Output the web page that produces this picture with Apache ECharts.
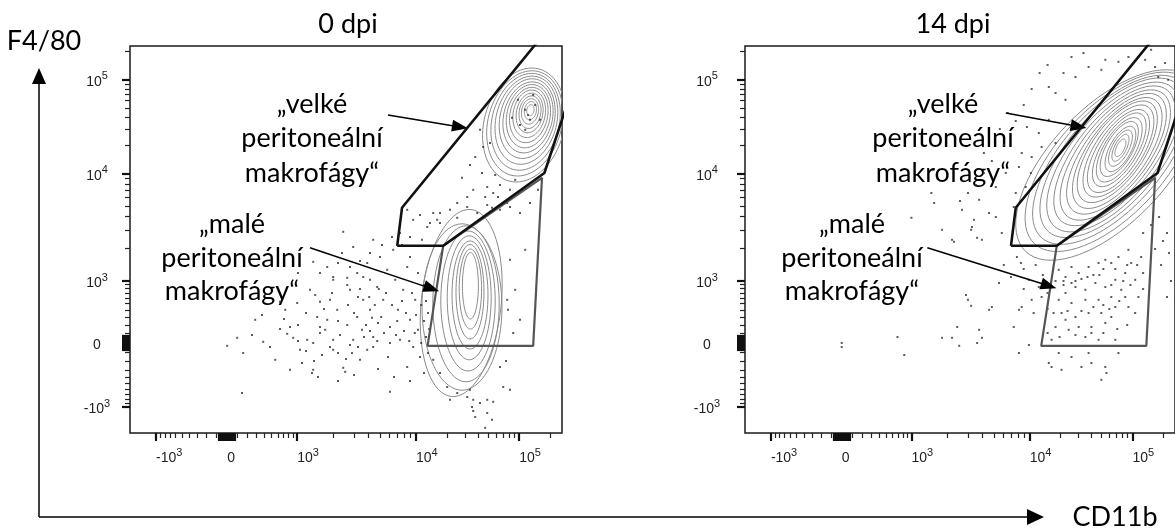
<!DOCTYPE html>
<html>
<head>
<meta charset="utf-8">
<script src="https://cdn.jsdelivr.net/npm/echarts@6/dist/echarts.min.js"></script>
<style>
html, body { margin: 0; padding: 0; background: #fff; }
#chart { width: 1175px; height: 531px; }
</style>
</head>
<body>
<div id="chart"></div>
<script>
// display scale in channels (both plots share it), 2.5 channels per plot pixel
var X_MAX = 1080, Y_MAX = 967.5;

// where the decades sit on the display scale
var xKnots = { neg: 65, zero: 243, k1: 418, k2: 715, k3: 973 };
var yKnots = { neg: 65, zero: 225, k1: 380, k2: 648, k3: 883 };
var tickValues = [-1000, 0, 1000, 10000, 100000];
var tickLabels = ['-10^3', '0', '10^3', '10^4', '10^5'];

// gate templates, [CD11b, F4/80] channels
var bigGate = [[668, 468], [680, 563], [1023, 983], [1113, 983], [1113, 883], [1036, 650], [783, 468]];
var smallGate = [[783, 468], [1030, 638], [1008, 218], [744, 218]];

// contours: [cx, cy, a, b, angle]
var contours0 = [
  [985, 770, 145, 100, 75], [987, 774, 134, 92, 75], [989, 778, 123, 84, 76], [991, 782, 112, 76, 76],
  [993, 786, 101, 68, 77], [995, 789, 90, 61, 77], [996, 792, 80, 54, 78], [997, 795, 70, 47, 78],
  [998, 798, 60, 40, 79], [999, 800, 50, 33, 79], [1000, 802, 41, 27, 80], [1000, 804, 32, 21, 80],
  [1001, 806, 23, 15, 80], [1001, 807, 14, 9, 80],
  [828, 325, 235, 100, 84], [830, 315, 208, 100, 90], [840, 323, 195, 83, 90], [845, 330, 175, 68, 90],
  [848, 338, 155, 55, 90], [850, 345, 135, 45, 90], [850, 353, 118, 35, 90], [851, 360, 100, 28, 90],
  [851, 368, 83, 20, 90]
];
var contours14 = [
  [913, 670, 300, 145, 46], [918, 678, 280, 134, 47], [920, 683, 262, 123, 48], [923, 688, 245, 114, 49],
  [925, 690, 228, 105, 50], [928, 693, 211, 96, 51], [930, 695, 195, 88, 52], [933, 698, 179, 80, 53],
  [935, 700, 163, 73, 54], [935, 703, 148, 66, 55], [938, 705, 133, 59, 56], [938, 705, 119, 52, 57],
  [940, 708, 105, 45, 58], [940, 708, 91, 39, 59], [940, 710, 77, 33, 60], [943, 710, 63, 27, 61],
  [943, 712, 50, 21, 62], [943, 713, 37, 15, 63], [943, 713, 24, 10, 64]
];

// outlier events
var dots0 = [
  [243,218],[268,238],[283,200],[280,100],[330,295],[333,228],[350,215],[375,260],[393,248],[408,238],
  [420,270],[425,208],[443,233],[458,225],[455,150],[468,290],[475,265],[488,258],[493,283],[500,333],
  [508,233],[518,308],[525,245],[533,163],[543,270],[550,358],[558,233],[568,290],[580,258],[583,333],
  [593,208],[600,308],[608,240],[618,365],[620,275],[600,383],[568,400],[543,388],[508,383],[493,415],
  [530,450],[420,400],[375,328],[475,328],[418,325],[305,245],[363,183],[313,283],[400,158],[450,358],
  [388,308],[458,428],[475,400],[508,390],[533,503],[543,370],[558,465],[570,340],[583,390],[593,425],
  [605,288],[608,483],[622,360],[625,440],[633,333],[643,408],[650,265],[658,458],[663,383],[670,308],
  [675,233],[683,358],[693,415],[700,283],[708,215],[713,333],[720,258],[725,190],[550,220],[508,208],
  [475,250],[458,158],[538,153],[575,183],[608,215],[645,190],[693,165],[650,103],
  [440,300],[463,345],[485,310],[505,350],[520,280],[545,320],[560,300],[575,360],[590,270],[598,340],
  [612,320],[628,290],[640,350],[655,320],[668,280],[680,330],[690,300],[705,350],[715,295],[728,320],
  [735,280],[740,240],[728,225],[712,250],[698,230],[685,255],[665,245],[650,225],[635,250],[618,230],
  [600,255],[585,240],[570,215],[555,200],[540,185],[520,200],[500,215],[480,195],[460,180],[440,205],
  [420,230],[400,265],[385,285],[430,175],[470,140],[520,130],[560,145],[620,160],[660,140],[700,130],
  [735,150],[745,200],[748,260],[745,300],[740,330],[735,370],[720,400],[700,440],[680,470],[655,490],
  [630,470],[600,450],[575,430],[550,415],[520,425],
  [693,558],[708,533],[725,545],[743,515],[758,550],[775,525],[800,558],[818,538],[843,565],[868,550],
  [893,570],[925,558],[943,575],[700,490],[730,483],[675,500],[875,758],[863,690],[880,650],[830,638],
  [858,608],[893,615],[908,600],[920,590],[888,590],[843,590],[818,575],[775,550],[768,533],[750,525],
  [905,563],[950,565],[975,550],[1000,575],[1020,608],[900,725],[883,715],[850,670],[913,645],[925,620],
  [950,608],[963,633],
  [758,183],[775,150],[793,115],[818,100],[843,90],[858,83],[855,65],[858,55],[863,40],[875,75],
  [893,83],[908,78],[893,50],[905,33],[888,13],[933,115],[950,108],[925,165],[958,250],[943,333],
  [945,308],[940,180],[800,83],[850,108],
  [950,433],[963,358],[975,283],[988,458],
  [988,808],[1000,783],[975,770],[1013,820],[995,795],[970,833],[1025,783],[988,758],[955,788],[1008,845]
];
var dots14 = [
  [243,225],[243,215],[383,240],[400,195],[495,238],[520,238],[533,265],[538,218],[583,225],[555,345],
  [560,333],[525,478],[583,488],[468,600],[475,575],[545,558],[575,533],[568,508],[520,483],[495,508],
  [418,538],
  [763,865],[780,850],[805,833],[830,890],[863,915],[895,908],[905,933],[938,928],[963,940],[988,940],
  [763,783],[738,750],[708,765],[695,700],[688,665],[718,650],[738,633],[655,650],[630,615],[588,583],
  [613,550],[570,515],[595,483],[645,500],[630,540],[675,565],[745,715],[780,725],[720,690],[705,615],
  [680,600],[1005,933],[1030,915],[1055,925],[1038,890],[1063,883],[1020,958],
  [700,820],[680,780],[720,860],[740,900],[760,920],[800,900],[820,940],[850,950],[650,720],[620,680],
  [600,650],[580,620],[560,600],[540,580],[600,700],[640,760],[660,800],
  [683,440],[693,425],[713,383],[738,365],[745,340],[720,333],[695,315],[688,308],[638,375],[620,315],
  [568,318],[613,308],[588,258],[595,238],[675,265],[713,220],[688,200],[763,175],[795,158],[770,165],
  [845,165],[870,175],[905,165],[908,150],[895,133],[938,200],[788,408],[805,390],[820,415],[838,400],
  [863,415],[888,425],[905,433],[920,425],[938,440],[963,458],[970,425],[955,400],[930,383],[905,365],
  [880,375],[855,358],[830,365],[805,350],[788,333],[820,325],[855,333],[888,333],[920,340],[945,358],
  [930,315],[895,300],[863,300],[830,290],[805,283],[838,265],[870,265],[905,275],[855,240],[813,258],
  [780,265],[770,233],[888,233],[920,290],[963,315],[988,340],[980,383],[995,440],[820,190],[863,200],
  [930,233],[788,200],
  [650,420],[668,390],[700,360],[725,300],[760,310],[775,300],[795,300],[810,305],[845,305],[875,315],
  [900,320],[915,310],[940,330],[955,340],[968,370],[950,380],[920,370],[890,395],[860,390],[830,380],
  [800,370],[780,380],[760,350],[748,395],[730,420],[700,410],[760,250],[790,240],[830,245],[870,250],
  [900,250],[935,260],[960,270],[980,300],[1000,360],[1000,400],[985,420],[960,420],[930,410],[900,410],
  [875,395],[845,385],[820,375],[800,380],
  [1000,500],[1020,520],[1040,540],[1050,480],[1030,460],[1060,500],[1045,420],[1065,450],[1070,380],[1060,340]
];

// annotation arrows, [from, to] in channels
var arrows0 = [[[645, 795], [825, 765]], [[450, 463], [754, 361]]];
var arrows14 = [[[655, 800], [838, 766]], [[458, 463], [763, 368]]];

// fluorescence -> display channel
function toChannel(v, k) {
  if (v >= -1000 && v <= 1000) {
    var end = v < 0 ? k.neg : k.k1;
    return k.zero + (end - k.zero) * Math.asinh(Math.abs(v) / 400) / Math.asinh(1000 / 400);
  }
  var lg = Math.log10(v);
  if (lg <= 4) return k.k1 + (lg - 3) * (k.k2 - k.k1);
  if (lg <= 5) return k.k2 + (lg - 4) * (k.k3 - k.k2);
  return k.k3 + (lg - 5) * (k.k3 - k.k2);
}

var majorVals = [-1000, 1000, 10000, 100000, 0, 15, -15, 30, -30, 45, -45, 60, -60, 75, -75];
var minorVals = [200000];
for (var m = 1; m <= 9; m++) {
  minorVals.push(m * 100, -m * 100);
  if (m > 1) minorVals.push(m * 1000, m * 10000);
}

var rich = {
  b: { fontFamily: 'Liberation Sans', fontSize: 14, color: '#222', lineHeight: 18, verticalAlign: 'bottom' },
  s: { fontFamily: 'Liberation Sans', fontSize: 11, color: '#222', lineHeight: 4, verticalAlign: 'top' }
};
function labelText(s) {
  var p = s.split('^');
  return p.length > 1 ? '{b|' + p[0] + '}{s|' + p[1] + '}' : '{b|' + p[0] + '}';
}

function makeAxes(grid, dim, knots, max, margin) {
  var pos = tickValues.map(function (v) { return toChannel(v, knots); });
  var base = {
    type: 'value', gridIndex: grid, min: 0, max: max,
    position: dim === 'x' ? 'bottom' : 'left',
    axisLine: { show: false, onZero: false },
    splitLine: { show: false }
  };
  var major = Object.assign({}, base, {
    axisTick: { show: true, customValues: majorVals.map(function (v) { return toChannel(v, knots); }),
      length: 8, lineStyle: { color: '#111', width: 2.2 } },
    axisLabel: {
      show: true, customValues: pos, margin: margin, fontSize: 14, color: '#222',
      align: dim === 'x' ? 'left' : 'center',
      formatter: function (val) {
        var best = 0;
        for (var i = 1; i < pos.length; i++) {
          if (Math.abs(pos[i] - val) < Math.abs(pos[best] - val)) best = i;
        }
        return labelText(tickLabels[best]);
      },
      rich: rich
    }
  });
  var minor = Object.assign({}, base, {
    axisTick: { show: true, customValues: minorVals.map(function (v) { return toChannel(v, knots); }),
      length: 5, lineStyle: { color: '#222', width: 1.2 } },
    axisLabel: { show: false }
  });
  return [major, minor];
}

function drawContour(params, api) {
  var cx = api.value(0), cy = api.value(1), a = api.value(2), b = api.value(3);
  var ang = api.value(4) * Math.PI / 180;
  var pts = [];
  for (var i = 0; i < 72; i++) {
    var t = i / 72 * 2 * Math.PI;
    var dx = a * Math.cos(t), dy = b * Math.sin(t);
    pts.push(api.coord([cx + dx * Math.cos(ang) - dy * Math.sin(ang), cy + dx * Math.sin(ang) + dy * Math.cos(ang)]));
  }
  return { type: 'polygon', shape: { points: pts }, style: { fill: 'none', stroke: '#8a8a8a', lineWidth: 1 } };
}

function panelSeries(axisIdx, contours, dots, arrows) {
  return [
    {
      type: 'custom', xAxisIndex: axisIdx, yAxisIndex: axisIdx, clip: true, silent: true,
      renderItem: drawContour, data: contours, encode: { x: 0, y: 1 }, z: 2
    },
    {
      type: 'scatter', xAxisIndex: axisIdx, yAxisIndex: axisIdx, clip: true, silent: true,
      symbol: 'rect', symbolSize: 2, itemStyle: { color: '#333' }, data: dots, z: 3
    },
    {
      type: 'line', xAxisIndex: axisIdx, yAxisIndex: axisIdx, clip: true, silent: true,
      symbol: 'none', data: smallGate.concat([smallGate[0]]),
      lineStyle: { color: '#555', width: 2.2 }, z: 4
    },
    {
      type: 'line', xAxisIndex: axisIdx, yAxisIndex: axisIdx, clip: true, silent: true,
      symbol: 'none', data: bigGate.concat([bigGate[0]]),
      lineStyle: { color: '#111', width: 2.6 }, z: 5,
      markLine: {
        silent: true, symbol: ['none', 'triangle'], symbolSize: [12, 16],
        label: { show: false },
        lineStyle: { color: '#000', width: 1.5, type: 'solid' },
        data: arrows.map(function (a) { return [{ coord: a[0] }, { coord: a[1] }]; })
      }
    }
  ];
}

var font = { fontFamily: 'Lato', fontSize: 27, fill: '#000', align: 'center', verticalAlign: 'middle' };
function txt(s, x, y) {
  return { type: 'text', x: x, y: y, style: Object.assign({ text: s }, font) };
}

var option = {
  animation: false,
  grid: [
    { left: 130, top: 46, width: 432, height: 387, show: true, borderColor: '#1a1a1a', borderWidth: 1.5 },
    { left: 745, top: 46, width: 432, height: 387, show: true, borderColor: '#1a1a1a', borderWidth: 1.5 }
  ],
  xAxis: makeAxes(0, 'x', xKnots, X_MAX, 14).concat(makeAxes(1, 'x', xKnots, X_MAX, 14)),
  yAxis: makeAxes(0, 'y', yKnots, Y_MAX, 33).concat(makeAxes(1, 'y', yKnots, Y_MAX, 38)),
  series: panelSeries(0, contours0, dots0, arrows0).concat(panelSeries(2, contours14, dots14, arrows14)),
  graphic: [
    txt('0 dpi', 348, 24),
    txt('14 dpi', 953, 24),
    txt('F4/80', 44, 41),
    txt('CD11b', 1115, 517),
    txt('\u201evelké', 312, 104), txt('peritoneální', 312, 138), txt('makrofágy\u201c', 312, 173),
    txt('\u201emalé', 232, 224), txt('peritoneální', 232, 258), txt('makrofágy\u201c', 232, 291),
    txt('\u201evelké', 943, 104), txt('peritoneální', 943, 138), txt('makrofágy\u201c', 943, 173),
    txt('\u201emalé', 852, 224), txt('peritoneální', 852, 258), txt('makrofágy\u201c', 852, 291),
    { type: 'polyline', shape: { points: [[39, 517], [39, 80]] }, style: { stroke: '#000', lineWidth: 1.5 } },
    { type: 'polygon', shape: { points: [[39, 68], [32, 84], [46, 84]] }, style: { fill: '#000' } },
    { type: 'polyline', shape: { points: [[39, 517], [1030, 517]] }, style: { stroke: '#000', lineWidth: 1.5 } },
    { type: 'polygon', shape: { points: [[1044, 517], [1027, 509], [1027, 525]] }, style: { fill: '#000' } }
  ]
};

var chart = echarts.init(document.getElementById('chart'));
chart.setOption(option);
</script>
</body>
</html>
